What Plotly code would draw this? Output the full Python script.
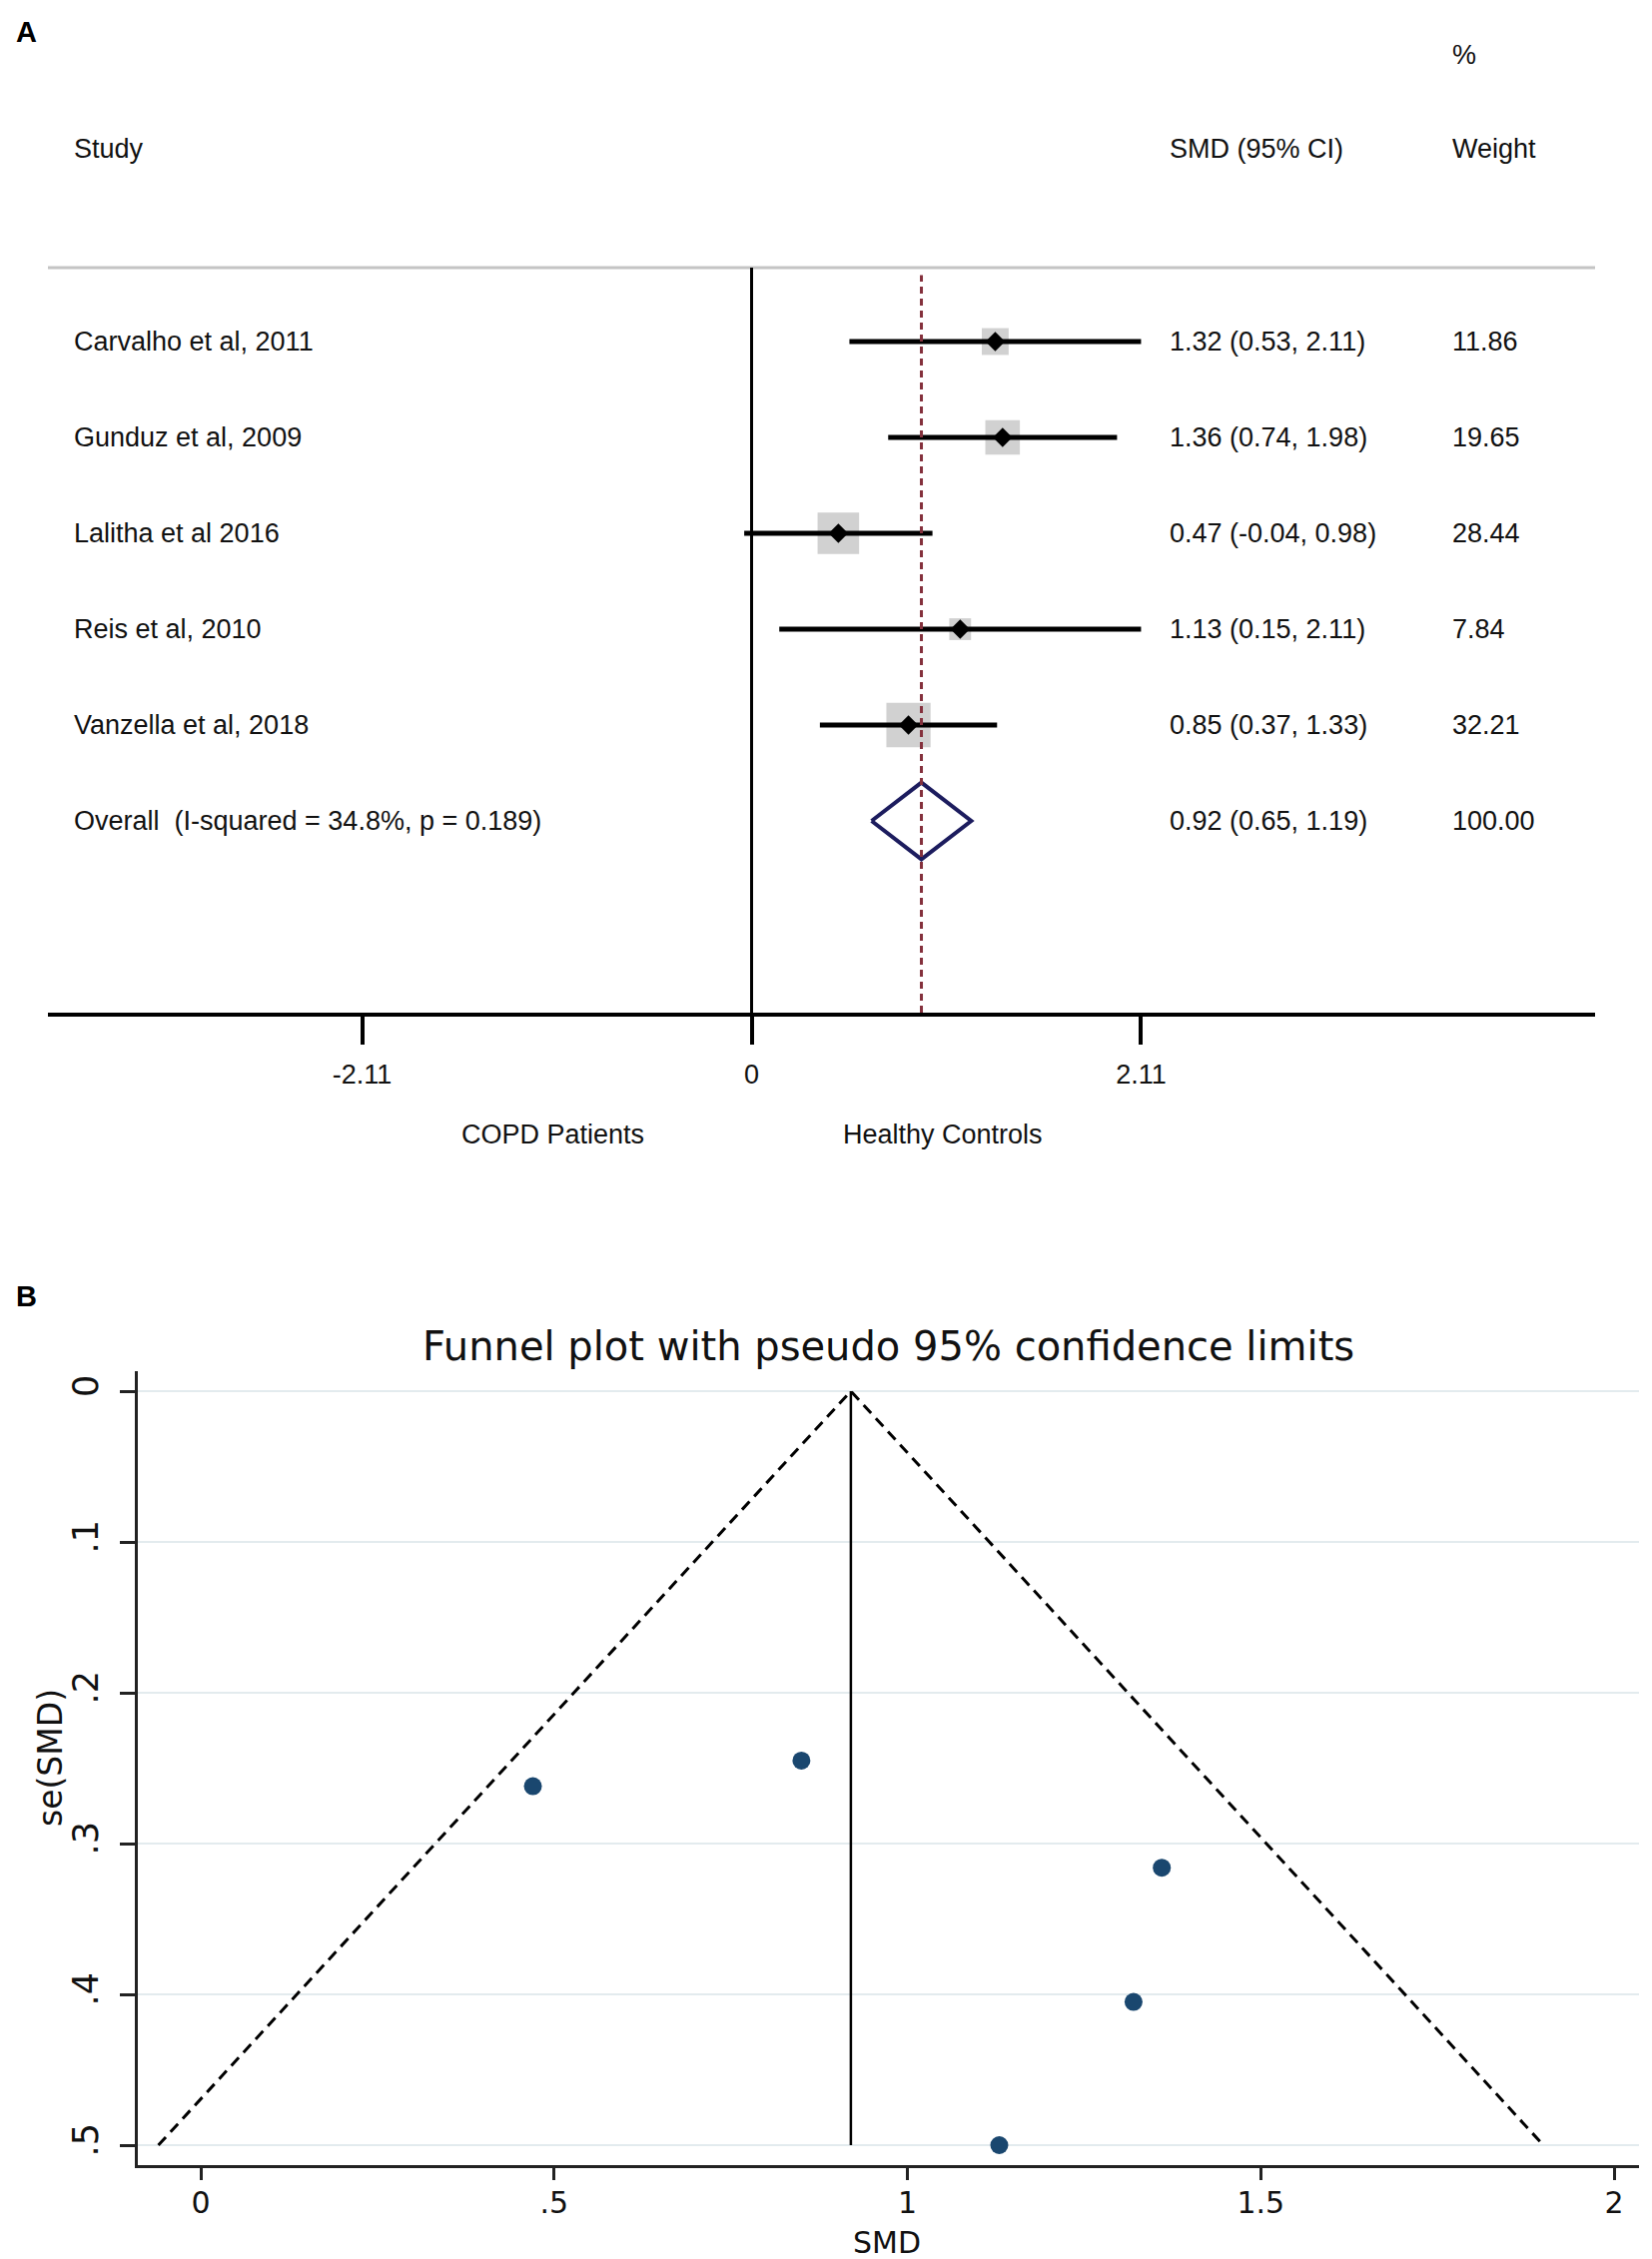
import plotly.graph_objects as go

W, H = 1654, 2262

# ---------------- data: panel A (forest plot) ----------------
studies = ["Carvalho et al, 2011", "Gunduz et al, 2009", "Lalitha et al 2016",
           "Reis et al, 2010", "Vanzella et al, 2018"]
smd = [1.32, 1.36, 0.47, 1.13, 0.85]
ci_low = [0.53, 0.74, -0.04, 0.15, 0.37]
ci_high = [2.11, 1.98, 0.98, 2.11, 1.33]
weights = [11.86, 19.65, 28.44, 7.84, 32.21]
overall_label = "Overall  (I-squared = 34.8%, p = 0.189)"
overall_smd = 0.92
overall_low = 0.65
overall_high = 1.19
overall_weight = 100.00
forest_ticks = [-2.11, 0, 2.11]
forest_ticktext = ["-2.11", "0", "2.11"]

# ---------------- data: panel B (funnel plot) ----------------
se_smd = [0.405, 0.316, 0.262, 0.500, 0.245]
funnel_limit_x = [-0.06, 0.92, 1.90]
funnel_limit_y = [0.5, 0.0, 0.5]
funnel_xticks = [0, 0.5, 1, 1.5, 2]
funnel_xticktext = ["0", ".5", "1", "1.5", "2"]
funnel_yticks = [0, 0.1, 0.2, 0.3, 0.4, 0.5]
funnel_yticktext = ["0", ".1", ".2", ".3", ".4", ".5"]


def pxx(p):
    return p / W


def pxy(p):
    return 1 - p / H


FA = "Liberation Sans, Arial, sans-serif"
FB = "DejaVu Sans, sans-serif"

fig = go.Figure()

rows = list(range(len(studies)))
overall_row = len(studies)

# gray weight squares
fig.add_trace(go.Scatter(
    x=smd, y=rows, mode="markers", xaxis="x", yaxis="y",
    marker=dict(symbol="square", color="#bdbdbd",
                size=[7.8 * w ** 0.5 for w in weights], line=dict(width=0)),
    hoverinfo="skip", showlegend=False))

# confidence interval lines
cx, cy = [], []
for r, lo, hi in zip(rows, ci_low, ci_high):
    cx += [lo, hi, None]
    cy += [r, r, None]
fig.add_trace(go.Scatter(
    x=cx, y=cy, mode="lines", xaxis="x", yaxis="y",
    line=dict(color="black", width=5), hoverinfo="skip", showlegend=False))

# point estimates
fig.add_trace(go.Scatter(
    x=smd, y=rows, mode="markers", xaxis="x", yaxis="y",
    marker=dict(symbol="diamond", color="black", size=15),
    hoverinfo="skip", showlegend=False))

# overall diamond
dh = 0.40
fig.add_trace(go.Scatter(
    x=[overall_low, overall_smd, overall_high, overall_smd, overall_low],
    y=[overall_row, overall_row - dh, overall_row, overall_row + dh, overall_row],
    mode="lines", xaxis="x", yaxis="y",
    line=dict(color="#1c1c5e", width=4), hoverinfo="skip", showlegend=False))

# ---------------- panel B traces ----------------
fig.add_trace(go.Scatter(
    x=funnel_limit_x, y=funnel_limit_y, mode="lines", xaxis="x2", yaxis="y2",
    line=dict(color="black", width=3, dash="11px,7px"),
    hoverinfo="skip", showlegend=False))
fig.add_trace(go.Scatter(
    x=[overall_smd, overall_smd], y=[0, max(se_smd)], mode="lines",
    xaxis="x2", yaxis="y2", line=dict(color="black", width=2.5),
    hoverinfo="skip", showlegend=False))
fig.add_trace(go.Scatter(
    x=smd, y=se_smd, mode="markers", xaxis="x2", yaxis="y2",
    marker=dict(color="#1a476f", size=18, line=dict(width=0)),
    hoverinfo="skip", showlegend=False))

# ---------------- axes ----------------
zero_px, scale_px = 752.5, 184.8
xa_l, xa_r = 48, 1597
row0_px, row_step = 342, 96
ya_t, ya_b = 268, 1014

fig.update_layout(
    xaxis=dict(
        domain=[pxx(xa_l), pxx(xa_r)],
        range=[(xa_l - zero_px) / scale_px, (xa_r - zero_px) / scale_px],
        anchor="y", showgrid=False, zeroline=False,
        showline=True, linecolor="black", linewidth=4,
        ticks="outside", ticklen=28, tickwidth=4, tickcolor="black",
        tickvals=forest_ticks, ticktext=forest_ticktext,
        tickfont=dict(family=FA, size=27, color="#111111"),
        ticklabelstandoff=7,
    ),
    yaxis=dict(
        domain=[pxy(ya_b), pxy(ya_t)],
        range=[(ya_b - row0_px) / row_step, (ya_t - row0_px) / row_step],
        anchor="x", showgrid=False, zeroline=False, showline=False,
        showticklabels=False, ticks="",
    ),
    xaxis2=dict(
        domain=[pxx(138), pxx(1641)],
        range=[(138 - 201) / 707.5, (1641 - 201) / 707.5],
        anchor="y2", showgrid=False, zeroline=False,
        showline=True, linecolor="#222222", linewidth=2.5,
        ticks="outside", ticklen=12, tickwidth=2.5, tickcolor="#222222",
        tickvals=funnel_xticks, ticktext=funnel_xticktext,
        tickfont=dict(family=FB, size=30, color="#111111"),
        ticklabelstandoff=-3,
    ),
    yaxis2=dict(
        domain=[pxy(2168), pxy(1373)],
        range=[(2168 - 1393) / 1510, (1373 - 1393) / 1510],
        anchor="x2", showgrid=True, gridcolor="#e3ebee", gridwidth=2,
        zeroline=False, showline=True, linecolor="#222222", linewidth=2.5,
        ticks="outside", ticklen=15, tickwidth=2.5, tickcolor="#222222",
        tickvals=funnel_yticks, ticktext=funnel_yticktext, tickangle=-90,
        tickfont=dict(family=FB, size=35, color="#111111"),
        ticklabelstandoff=8,
    ),
)

# ---------------- shapes ----------------
shapes = [
    # gray header separator
    dict(type="line", xref="x domain", yref="y domain", x0=0, x1=1, y0=1, y1=1,
         line=dict(color="#c4c4c4", width=3)),
    # null line
    dict(type="line", xref="x", yref="y domain", x0=0, x1=0, y0=0, y1=1,
         line=dict(color="black", width=3)),
    # overall effect dashed line
    dict(type="line", xref="x", yref="y domain", x0=overall_smd, x1=overall_smd,
         y0=0, y1=0.99, line=dict(color="#84303c", width=3, dash="7px,5px")),
]
fig.update_layout(shapes=shapes)

# ---------------- annotations ----------------
ann = []


def text(x, y, s, xref="paper", yref="paper", size=27, family=FA,
         xanchor="left", yanchor="middle", angle=0, bold=False, color="#111111"):
    ann.append(dict(x=x, y=y, xref=xref, yref=yref, text=("<b>%s</b>" % s) if bold else s,
                    showarrow=False, xanchor=xanchor, yanchor=yanchor, textangle=angle,
                    font=dict(family=family, size=size, color=color)))


text(pxx(14), pxy(32), "A", size=29, bold=True, color="black")
text(pxx(1452), pxy(55), "%")
text(pxx(72), pxy(149), "Study")
text(pxx(1169), pxy(149), "SMD (95% CI)")
text(pxx(1452), pxy(149), "Weight")

for r, name, s, lo, hi, w in zip(rows, studies, smd, ci_low, ci_high, weights):
    text(pxx(72), r, name, yref="y")
    text(pxx(1169), r, "%.2f (%.2f, %.2f)" % (s, lo, hi), yref="y")
    text(pxx(1452), r, "%.2f" % w, yref="y")

text(pxx(72), overall_row, overall_label, yref="y")
text(pxx(1169), overall_row, "%.2f (%.2f, %.2f)" % (overall_smd, overall_low, overall_high), yref="y")
text(pxx(1452), overall_row, "%.2f" % overall_weight, yref="y")

text(pxx(553), pxy(1136), "COPD Patients", xanchor="center")
text(pxx(944), pxy(1136), "Healthy Controls", xanchor="center")

# panel B
text(pxx(14), pxy(1298), "B", size=29, bold=True, color="black")
text(pxx(889), pxy(1348), "Funnel plot with pseudo 95% confidence limits",
     size=40, family=FB, xanchor="center")
text(pxx(50), pxy(1760), "se(SMD)", size=33, family=FB, xanchor="center", angle=-90)
text(pxx(888), pxy(2245), "SMD", size=30, family=FB, xanchor="center")

fig.update_layout(
    annotations=ann,
    width=W, height=H, autosize=False,
    margin=dict(l=0, r=0, t=0, b=0, pad=0),
    paper_bgcolor="white", plot_bgcolor="white",
    showlegend=False,
)

fig.write_html("out.html", config={"displayModeBar": False},
               post_script="document.body.style.margin='0';document.body.style.overflow='hidden';")
